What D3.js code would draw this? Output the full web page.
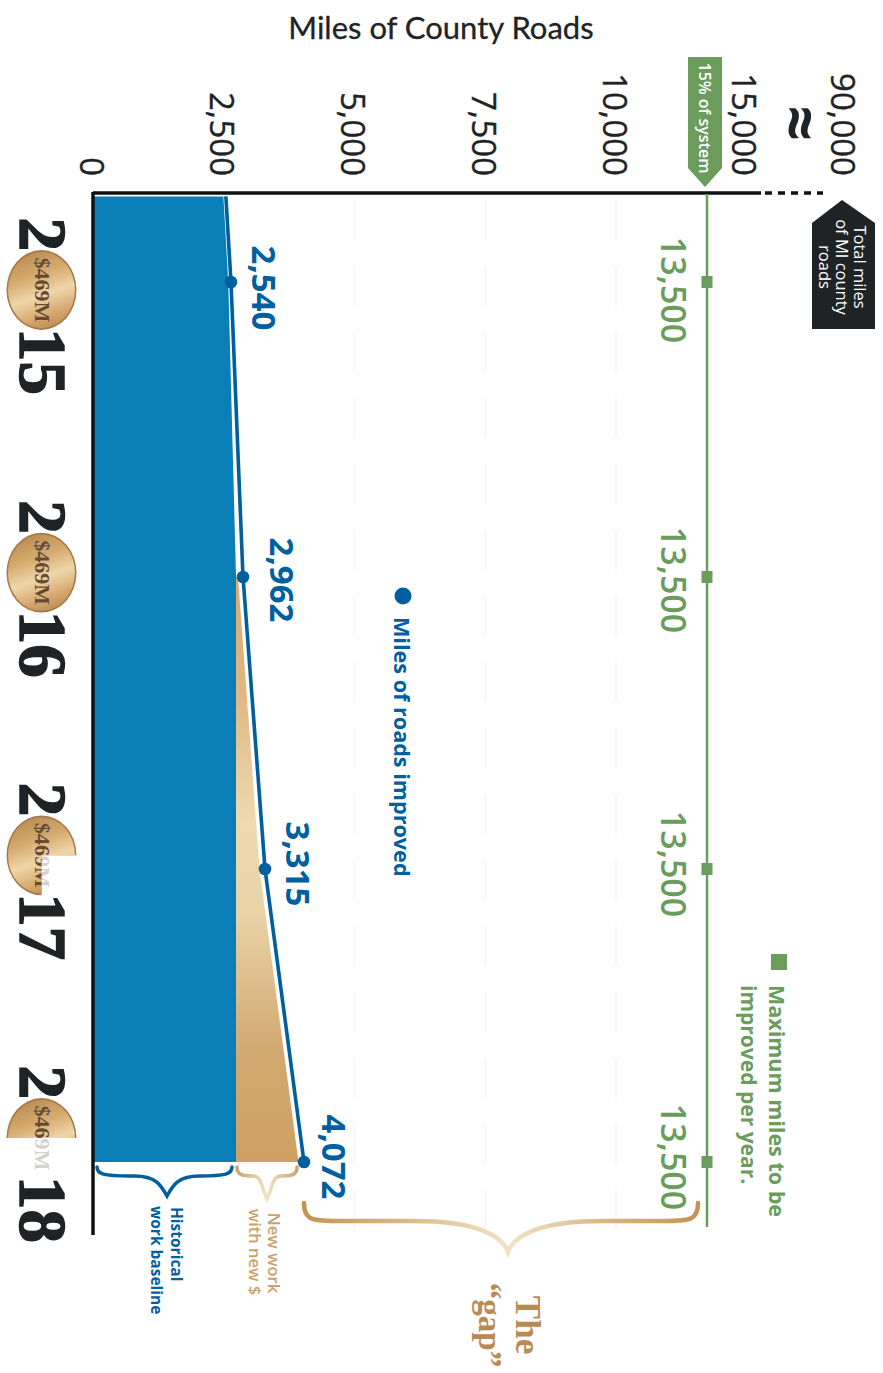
<!DOCTYPE html>
<html><head><meta charset="utf-8">
<script src="https://cdn.jsdelivr.net/npm/d3@7/dist/d3.min.js"></script>
<style>html,body{margin:0;padding:0;background:#fff}svg{display:block}</style>
</head><body><svg id="c" width="883" height="1373"></svg>
<script>
// ---- data ----
const years = [2015, 2016, 2017, 2018];
const milesImproved = [2540, 2962, 3315, 4072];
const maxMiles = [13500, 13500, 13500, 13500];
const historicalBaseline = [2490, 2716, 2716, 2716];
const coinFunding = [1, 1, 0.75, 0.5];
const coinLabel = "$469M";
const tickValues = [0, 2500, 5000, 7500, 10000, 15000, 90000];
const lineStub = {year: 2014.71, miles: 2445, baseline: 2400};

const BLUE = "#005f9e", FILL = "#0a7fb7", GREEN = "#6a9c5c", TAN = "#c9a26c", INK = "#1f2326";
const SANS = "'Open Sans',sans-serif", SERIF = "'Liberation Serif',serif";

const svg = d3.select("#c");
const defs = svg.append("defs");
function grad(id, attrs, stops) {
  const g = defs.append("linearGradient").attr("id", id).attr("gradientUnits", "userSpaceOnUse");
  Object.entries(attrs).forEach(([k, v]) => g.attr(k, v));
  stops.forEach(([o, c]) => g.append("stop").attr("offset", o).attr("stop-color", c));
}

// scales: the printed axis is not uniform and has a break before 90,000
const tickX = d3.scaleLinear().domain([0, 10000, 15000, 90000]).range([91, 614, 743, 842]);
const x = d3.scaleLinear().domain([0, 2540, 2962, 3315, 4072, 13500, 15000]).range([93, 231, 243, 265, 304, 707, 761]);
const y = d3.scaleLinear().domain(years).range([282, 577, 869, 1162]);
const coinY = d3.scalePoint().domain(years).range([290, 1138]);

function vtext(px, py, str, o = {}) {
  return svg.append("text")
    .attr("transform", `translate(${px},${py}) rotate(90)`)
    .attr("text-anchor", o.anchor || "middle")
    .attr("dominant-baseline", o.base || "central")
    .attr("font-family", o.family || SANS)
    .attr("font-size", o.size || 16)
    .attr("font-weight", o.weight || 400)
    .attr("fill", o.fill || INK)
    .text(str);
}

// faint scan guides
svg.append("g").selectAll("line").data(tickValues.slice(2, 5)).join("line")
  .attr("x1", d => tickX(d) + 2).attr("x2", d => tickX(d) + 2)
  .attr("y1", 200).attr("y2", 1230)
  .attr("stroke", "#f5f5f5").attr("stroke-width", 1.5).attr("stroke-dasharray", "40 26");

// title and tick labels
svg.append("text").attr("x", 441).attr("y", 39).attr("text-anchor", "middle")
  .attr("font-family", "Lato,sans-serif").attr("font-size", 31).attr("fill", INK)
  .attr("stroke", INK).attr("stroke-width", 0.3)
  .text("Miles of County Roads");
svg.append("g").selectAll("text").data(tickValues).join("text")
  .attr("transform", d => `translate(${tickX(d) + 1},176) rotate(90)`)
  .attr("text-anchor", "end").attr("dominant-baseline", "central")
  .attr("font-family", SANS).attr("font-size", 33).attr("fill", INK)
  .attr("stroke", INK).attr("stroke-width", 0.4)
  .text(d => d3.format(",")(d));
vtext(802, 123, "≈", {size: 62, weight: 700});

// areas
const rows = [{year: lineStub.year, v: lineStub.miles, b: lineStub.baseline}]
  .concat(years.map((yr, i) => ({year: yr, v: milesImproved[i], b: historicalBaseline[i]})));
svg.append("path").datum(rows)
  .attr("d", d3.area().y(d => y(d.year)).x0(x(0) + 1).x1(d => x(d.b)))
  .attr("fill", FILL);
grad("tanG", {x1: 0, x2: 0, y1: y(2016), y2: y(2018)},
  [[0, "#dda968"], [0.2, "#e0b783"], [0.42, "#eddaaf"], [0.58, "#e8d2a6"], [0.8, "#d3aa72"], [1, "#cf9f65"]]);
const gapRows = rows.slice(2);
svg.append("path").datum(gapRows)
  .attr("d", d3.area().y(d => y(d.year)).x0(d => x(d.b)).x1((d, i) => i === 0 ? x(d.b) + 2 : x(d.v) - 5.5))
  .attr("fill", "url(#tanG)");

// axis lines
svg.append("line").attr("x1", x(0)).attr("x2", x(15000)).attr("y1", 193).attr("y2", 193)
  .attr("stroke", "#111").attr("stroke-width", 3.5);
svg.append("line").attr("x1", 765).attr("x2", 823).attr("y1", 193).attr("y2", 193)
  .attr("stroke", "#111").attr("stroke-width", 3.5).attr("stroke-dasharray", "7 6");
svg.append("line").attr("x1", x(0)).attr("x2", x(0)).attr("y1", 192).attr("y2", 1235)
  .attr("stroke", "#111").attr("stroke-width", 3.5);

// maximum line
svg.append("line").attr("x1", x(13500)).attr("x2", x(13500)).attr("y1", 194).attr("y2", 1227)
  .attr("stroke", GREEN).attr("stroke-width", 2.5);
svg.append("g").selectAll("rect").data(years).join("rect")
  .attr("x", (d, i) => x(maxMiles[i]) - 5.5).attr("y", d => y(d) - 6)
  .attr("width", 11).attr("height", 12).attr("fill", GREEN);
const labelDy = [8, 3, -5, -5];
svg.append("g").selectAll("text").data(years).join("text")
  .attr("transform", (d, i) => `translate(674,${y(d) + labelDy[i]}) rotate(90)`)
  .attr("text-anchor", "middle").attr("dominant-baseline", "central")
  .attr("font-family", SANS).attr("font-weight", 600).attr("font-size", 34).attr("fill", GREEN)
  .text((d, i) => d3.format(",")(maxMiles[i]));

// green flag
svg.append("path").attr("d", "M688,57H722V168L705,187L688,168Z").attr("fill", GREEN);
vtext(705, 118, "15% of system", {size: 16, weight: 600, fill: "#fff"});

// black tag
svg.append("path").attr("d", "M842,200L875,223V329H812V223Z").attr("fill", INK);
[["Total miles", 860], ["of MI county", 842.5], ["roads", 825]].forEach(([t, px]) =>
  vtext(px, 267, t, {size: 16.5, weight: 400, fill: "#fff"}));

// improved miles line
svg.append("path").datum(rows)
  .attr("d", d3.line().y(d => y(d.year)).x(d => x(d.v)))
  .attr("fill", "none").attr("stroke", BLUE).attr("stroke-width", 3.6);
svg.append("g").selectAll("circle").data(years).join("circle")
  .attr("cx", (d, i) => x(milesImproved[i])).attr("cy", d => y(d)).attr("r", 6.3).attr("fill", BLUE);
const labelDx = [33, 39, 33, 30];
svg.append("g").selectAll("text").data(years).join("text")
  .attr("transform", (d, i) => `translate(${x(milesImproved[i]) + labelDx[i]},${y(d) + (i === 0 ? 6 : labelDy[i])}) rotate(90)`)
  .attr("text-anchor", "middle").attr("dominant-baseline", "central")
  .attr("font-family", SANS).attr("font-weight", 700).attr("font-size", 33).attr("fill", BLUE)
  .text((d, i) => d3.format(",")(milesImproved[i]));

// legends
svg.append("circle").attr("cx", 403).attr("cy", 596).attr("r", 8.5).attr("fill", BLUE);
vtext(402, 617, "Miles of roads improved", {anchor: "start", size: 21.6, weight: 700, fill: BLUE});
svg.append("rect").attr("x", 771).attr("y", 954).attr("width", 16).attr("height", 16).attr("fill", GREEN);
vtext(777, 985, "Maximum miles to be", {anchor: "start", size: 21.5, weight: 700, fill: GREEN});
vtext(749, 985, "improved per year.", {anchor: "start", size: 21, weight: 700, fill: GREEN});

// braces
function brace(x0, x1, m, top, flat, tip) {
  const w = (x1 - x0), r = Math.min(16, w * 0.14), b = w * 0.24;
  return `M${x0},${top}C${x0},${flat - 2} ${x0 + r * .4},${flat} ${x0 + r * 2},${flat}` +
    `L${m - b},${flat}C${m - b * .35},${flat} ${m - 6},${flat + (tip - flat) * .45} ${m},${tip}` +
    `C${m + 6},${flat + (tip - flat) * .45} ${m + b * .35},${flat} ${m + b},${flat}` +
    `L${x1 - r * 2},${flat}C${x1 - r * .4},${flat} ${x1},${flat - 2} ${x1},${top}`;
}
grad("bigB", {x1: 303, x2: 699, y1: 0, y2: 0},
  [[0, "#c3934f"], [0.25, "#d9b988"], [0.52, "#f0e4c4"], [0.75, "#d9b988"], [1, "#c3934f"]]);
grad("smallB", {x1: 236, x2: 298, y1: 0, y2: 0},
  [[0, "#c8a26c"], [0.5, "#efe3c6"], [1, "#c8a26c"]]);
const braceStyle = (sel, col, w) => sel.attr("fill", "none").attr("stroke", col).attr("stroke-width", w).attr("stroke-linecap", "round");
svg.append("path").attr("d", brace(97, 232, 167, 1167, 1176, 1196)).call(braceStyle, BLUE, 3.5);
svg.append("path").attr("d", brace(237, 297, 267, 1167, 1176, 1199)).call(braceStyle, "url(#smallB)", 3.5);
svg.append("path").attr("d", brace(304, 698, 508, 1203, 1221, 1252)).call(braceStyle, "url(#bigB)", 4.5);

vtext(177, 1207, "Historical", {anchor: "start", size: 15.5, weight: 700, fill: BLUE});
vtext(157, 1206, "work baseline", {anchor: "start", size: 15.5, weight: 700, fill: BLUE});
vtext(274, 1253, "New work", {size: 16.5, weight: 600, fill: TAN});
vtext(255, 1252, "with new $", {size: 16.5, weight: 600, fill: TAN});
grad("gapG", {x1: 0, x2: 0, y1: 1283, y2: 1368}, [[0, "#b98a52"], [0.6, "#c9a473"], [1, "#dcc08f"]]);
vtext(527, 1325, "The", {family: SERIF, size: 35, weight: 700, fill: "url(#gapG)"});
vtext(490, 1325, "“gap”", {family: SERIF, size: 33, weight: 700, fill: "url(#gapG)"});

// coins and year labels
grad("coin", {x1: -8, y1: -36, x2: 14, y2: 36},
  [[0, "#b98a50"], [0.3, "#d6aa6e"], [0.55, "#efd6a8"], [0.8, "#d5a66c"], [1, "#b48450"]]);
const coinG = svg.append("g").selectAll("g").data(years).join("g")
  .attr("transform", d => `translate(41.5,${coinY(d)})`);
coinG.each(function (d, i) {
  const g = d3.select(this), f = coinFunding[i];
  const start = f === 1 ? 0 : f === 0.75 ? Math.PI : -Math.PI / 2;
  const arc = d3.arc().innerRadius(0).outerRadius(35).startAngle(start).endAngle(start + 2 * Math.PI * f);
  const inner = d3.arc().innerRadius(0).outerRadius(33.5).startAngle(start).endAngle(start + 2 * Math.PI * f);
  const clipId = "cc" + i;
  defs.append("clipPath").attr("id", clipId).append("path").attr("d", arc()).attr("transform", "scale(1,1.14)");
  g.append("path").attr("d", arc()).attr("transform", "scale(1,1.14)").attr("fill", "#a57a48");
  g.append("path").attr("d", inner()).attr("transform", "scale(1,1.14)").attr("fill", "url(#coin)");
  const lab = col => g.append("text").attr("transform", "rotate(90)").attr("text-anchor", "middle")
      .attr("dominant-baseline", "central").attr("font-family", SERIF).attr("font-weight", 700)
      .attr("font-size", 21).attr("textLength", 65).attr("lengthAdjust", "spacingAndGlyphs")
      .attr("fill", col).text(coinLabel);
  lab("#d2d2d2");
  g.append("g").attr("clip-path", `url(#${clipId})`).append(() => lab("#6b4a2a").node());
});
const yearFont = sel => sel.attr("dominant-baseline", "alphabetic").attr("font-family", SERIF)
  .attr("font-weight", 700).attr("font-size", 67).attr("fill", INK)
  .attr("stroke", INK).attr("stroke-width", 1.5);
svg.append("g").selectAll("text").data(years).join("text")
  .attr("transform", d => `translate(20,${coinY(d) - 39}) rotate(90)`).attr("text-anchor", "end")
  .call(yearFont).text(d => String(d)[0]);
svg.append("g").selectAll("text").data(years).join("text")
  .attr("transform", d => `translate(20,${coinY(d) + 38}) rotate(90)`).attr("text-anchor", "start")
  .call(yearFont).text(d => String(d).slice(2));
</script></body></html>
